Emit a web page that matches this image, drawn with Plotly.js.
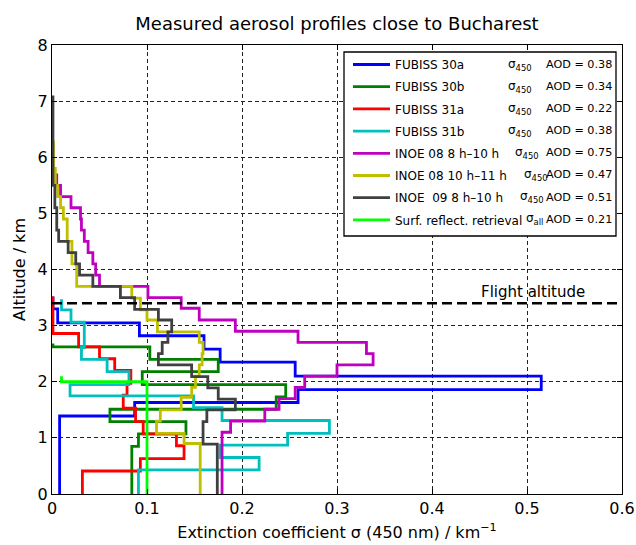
<!DOCTYPE html>
<html>
<head>
<meta charset="utf-8">
<script src="https://cdn.plot.ly/plotly-3.0.1.min.js"></script>
<style>
html,body{margin:0;padding:0;background:#fff;}
#chart{width:636px;height:545px;}
</style>
</head>
<body>
<div id="chart"></div>
<script>
// ---------- DATA ----------
const seriesNames = [
  'FUBISS 30a', 'FUBISS 30b', 'FUBISS 31a', 'FUBISS 31b',
  'INOE 08 8 h\u201310 h', 'INOE 08 10 h\u201311 h', 'INOE \u00a009 8 h\u201310 h',
  'Surf. reflect. retrieval'
];
const seriesSigma = ['450', '450', '450', '450', '450', '450', '450', 'all'];
const seriesAOD = ['0.38', '0.34', '0.22', '0.38', '0.75', '0.47', '0.51', '0.21'];

// layer boundaries (km) and extinction of each layer (1/km)
const fubiss30aAlt = [0, 1.39, 1.63, 1.86, 2.10, 2.35, 2.58, 2.82, 3.05, 3.30, 3.52];
const fubiss30aExt = [0.008, 0.087, 0.259, 0.515, 0.256, 0.177, 0.160, 0.092, 0.006, 0.001];

const fubiss30bAlt = [0, 0.85, 1.07, 1.29, 1.51, 1.73, 1.95, 2.18, 2.40, 2.62, 2.68];
const fubiss30bExt = [0.084, 0.091, 0.141, 0.061, 0.236, 0.246, 0.095, 0.175, 0.103, 0.001];

const fubiss31aAlt = [0, 0.41, 0.63, 0.86, 1.07, 1.29, 1.53, 1.76, 1.97, 2.20, 2.41, 2.62, 2.86, 3.52];
const fubiss31aExt = [0.032, 0.093, 0.139, 0.131, 0.096, 0.088, 0.075, 0.079, 0.083, 0.066, 0.050, 0.028, 0.001];

const fubiss31bAlt = [0, 0.43, 0.65, 0.87, 1.08, 1.31, 1.54, 1.75, 1.95, 2.18, 2.40, 2.61, 3.06, 3.28, 3.47];
const fubiss31bExt = [0.091, 0.218, 0.177, 0.248, 0.292, 0.179, 0.149, 0.019, 0.081, 0.058, 0.031, 0.034, 0.020, 0.010];

const inoe08aAlt = [0, 1.10, 1.30, 1.51, 1.70, 1.90, 2.10, 2.30, 2.50, 2.70, 2.90, 3.10, 3.31, 3.50, 3.70, 3.90, 4.10, 4.30, 4.50, 4.70, 4.90, 5.10, 5.30, 5.50, 5.71];
const inoe08aExt = [0.179, 0.188, 0.224, 0.239, 0.256, 0.266, 0.300, 0.338, 0.331, 0.259, 0.193, 0.155, 0.136, 0.101, 0.050, 0.046, 0.043, 0.038, 0.034, 0.031, 0.030, 0.020, 0.009, 0.005];

const inoe08bAlt = [0, 0.90, 1.08, 1.30, 1.50, 1.72, 1.90, 2.10, 2.30, 2.50, 2.70, 2.89, 3.10, 3.28, 3.49, 3.70, 4.10, 4.50, 4.90, 5.10, 5.30, 5.50, 5.80, 6.30];
const inoe08bExt = [0.156, 0.139, 0.110, 0.114, 0.136, 0.147, 0.151, 0.155, 0.158, 0.159, 0.155, 0.111, 0.100, 0.093, 0.084, 0.026, 0.021, 0.016, 0.012, 0.009, 0.006, 0.0035, 0.0015];

const inoe09Alt = [0, 0.89, 1.29, 1.50, 1.69, 1.89, 2.09, 2.30, 2.50, 2.70, 2.89, 3.10, 3.29, 3.50, 3.70, 3.90, 4.10, 4.30, 4.50, 4.70, 5.10, 5.50, 7.10];
const inoe09Ext = [0.174, 0.159, 0.163, 0.193, 0.175, 0.164, 0.147, 0.112, 0.116, 0.122, 0.126, 0.112, 0.087, 0.072, 0.043, 0.029, 0.025, 0.017, 0.007, 0.005, 0.003, 0.001];

const surfAlt = [0, 2.00, 2.10];
const surfExt = [0.100, 0.010];

const flightAltitude = 3.4;
const flightLabel = 'Flight altitude';

const xTickVals = [0, 0.1, 0.2, 0.3, 0.4, 0.5, 0.6];
const xTickText = ['0', '0.1', '0.2', '0.3', '0.4', '0.5', '0.6'];
const yTickVals = [0, 1, 2, 3, 4, 5, 6, 7, 8];
const yTickText = ['0', '1', '2', '3', '4', '5', '6', '7', '8'];

// ---------- STYLE ----------
const colors = ['#0000ff', '#008000', '#ff0000', '#00bfbf', '#bf00bf', '#bfbf00', '#404040', '#00ff00'];
const sigmaColPx = [506, 506, 506, 506, 513, 522, 518, 524];
const FONT = 'DejaVu Sans, Liberation Sans, sans-serif';

const profiles = [
  [fubiss30aAlt, fubiss30aExt], [fubiss30bAlt, fubiss30bExt],
  [fubiss31aAlt, fubiss31aExt], [fubiss31bAlt, fubiss31bExt],
  [inoe08aAlt, inoe08aExt], [inoe08bAlt, inoe08bExt],
  [inoe09Alt, inoe09Ext], [surfAlt, surfExt]
];

function stepXY(alt, ext) {
  const x = [], y = [];
  for (let i = 0; i < ext.length; i++) {
    x.push(ext[i], ext[i]);
    y.push(alt[i], alt[i + 1]);
  }
  return {x, y};
}

const traces = profiles.map((p, i) => {
  const s = stepXY(p[0], p[1]);
  return {
    type: 'scatter', mode: 'lines', x: s.x, y: s.y,
    name: seriesNames[i], legendgroup: 'g' + i,
    line: {color: colors[i], width: 2.8},
    hoverinfo: 'skip'
  };
});

traces.push({
  type: 'scatter', mode: 'lines',
  x: [xTickVals[0], xTickVals[xTickVals.length - 1]],
  y: [flightAltitude, flightAltitude],
  line: {color: '#000', width: 2.5, dash: '10px,5px'},
  showlegend: false, hoverinfo: 'skip'
});

// legend rows geometry (pixels -> paper)
const plotTop = 45, plotBottom = 494, plotLeft = 52, plotRight = 622;
const pyToPaper = py => (plotBottom - py) / (plotBottom - plotTop);
const pxToPaper = px => (px - plotLeft) / (plotRight - plotLeft);
const rowY0 = 64.5, rowStep = 22.1;

const annotations = [];
seriesNames.forEach((n, i) => {
  const yy = pyToPaper(rowY0 + rowStep * i);
  annotations.push({
    xref: 'paper', yref: 'paper', x: pxToPaper(sigmaColPx[i]), y: yy,
    xanchor: 'left', yanchor: 'middle', showarrow: false,
    text: '\u03c3<sub>' + seriesSigma[i] + '</sub>',
    font: {family: FONT, size: 12, color: '#000'}
  });
  annotations.push({
    xref: 'paper', yref: 'paper', x: pxToPaper(614), y: yy,
    xanchor: 'right', yanchor: 'middle', showarrow: false,
    text: 'AOD = ' + seriesAOD[i],
    font: {family: FONT, size: 11.2, color: '#000'}
  });
});
annotations.push({
  xref: 'x', yref: 'y', x: 0.506, y: flightAltitude,
  xanchor: 'center', yanchor: 'bottom', yshift: 0, showarrow: false,
  text: flightLabel, font: {family: FONT, size: 15, color: '#000'}
});

const axisCommon = {
  showline: true, linecolor: '#000', linewidth: 1, mirror: 'allticks',
  ticks: 'inside', ticklen: 5, tickwidth: 1, tickcolor: '#000',
  showgrid: true, gridcolor: '#222', gridwidth: 1, griddash: '4px,3px',
  zeroline: false, tickfont: {family: FONT, size: 16, color: '#000'},
  tickmode: 'array'
};

const layout = {
  width: 636, height: 545,
  margin: {l: plotLeft, r: 636 - plotRight, t: plotTop, b: 545 - plotBottom},
  paper_bgcolor: '#fff', plot_bgcolor: '#fff',
  font: {family: FONT, color: '#000'},
  title: {
    text: 'Measured aerosol profiles close to Bucharest',
    font: {family: FONT, size: 18, color: '#000'},
    x: 0.5, xref: 'paper', xanchor: 'center',
    y: 1 - 23.5 / 545, yref: 'container', yanchor: 'middle'
  },
  xaxis: Object.assign({}, axisCommon, {
    range: [0, 0.6], tickvals: xTickVals, ticktext: xTickText,
    title: {text: 'Extinction coefficient \u03c3 (450 nm) / km<sup>\u22121</sup>',
            font: {family: FONT, size: 16, color: '#000'}, standoff: 9}
  }),
  yaxis: Object.assign({}, axisCommon, {
    range: [0, 8], tickvals: yTickVals, ticktext: yTickText,
    title: {text: 'Altitude / km', font: {family: FONT, size: 16, color: '#000'}, standoff: 8}
  }),
  showlegend: true,
  legend: {
    x: pxToPaper(348), y: pyToPaper(50), xanchor: 'left', yanchor: 'top',
    bgcolor: 'rgba(0,0,0,0)', borderwidth: 0,
    font: {family: FONT, size: 12, color: '#000'},
    traceorder: 'grouped', tracegroupgap: 3.2, itemwidth: 37
  },
  shapes: [{
    type: 'rect', xref: 'paper', yref: 'paper', layer: 'above',
    x0: pxToPaper(344), x1: pxToPaper(616), y0: pyToPaper(236), y1: pyToPaper(52),
    line: {color: '#000', width: 1.3}, fillcolor: '#fff'
  }],
  annotations: annotations
};

Plotly.newPlot('chart', traces, layout, {displayModeBar: false, staticPlot: true});
</script>
</body>
</html>
